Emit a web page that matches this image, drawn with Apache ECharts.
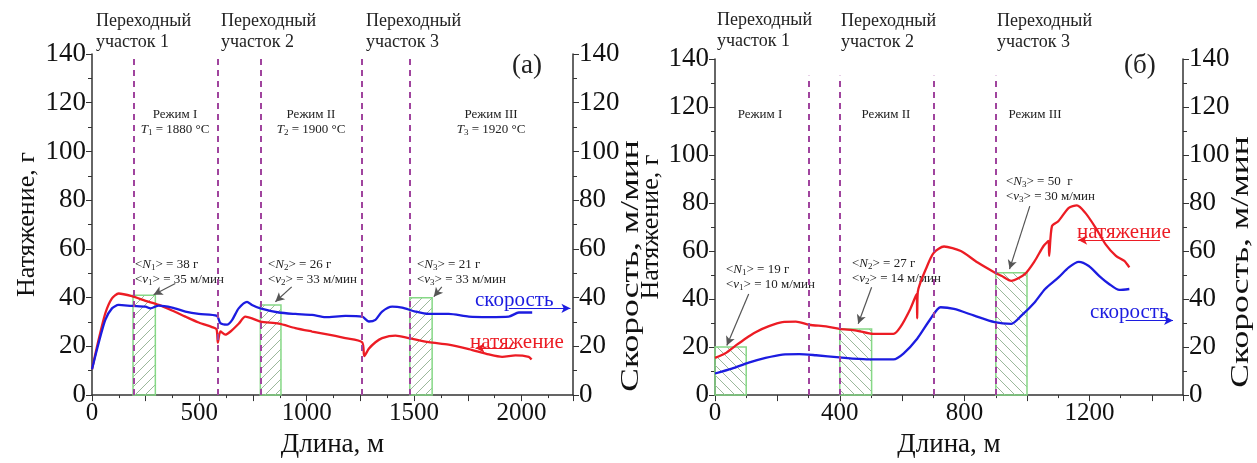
<!DOCTYPE html>
<html>
<head>
<meta charset="utf-8">
<script src="https://cdn.jsdelivr.net/npm/echarts@6/dist/echarts.min.js"></script>
<style>
  html, body { margin: 0; padding: 0; background: #fff; }
  #main { width: 1257px; height: 463px; }
</style>
</head>
<body>
<div id="main"></div>
<script>
// (а) — length [m] vs tension [g] and speed [m/min]
var lenA_N = [0, 31, 62, 93, 124, 186, 249, 311, 373, 435, 497, 559, 580, 586, 598, 621, 645, 683, 714, 745, 784, 870, 947, 1025, 1102, 1180, 1258, 1268, 1289, 1320, 1351, 1413, 1475, 1568, 1661, 1755, 1848, 1910, 1972, 2034, 2047]
var tensionA = [10.6, 22.8, 33.6, 39.7, 41.7, 40.6, 38.7, 37, 34.7, 32.2, 29.8, 27.9, 27, 21.5, 26.1, 24.8, 26.1, 29.3, 32.2, 31.5, 30.2, 29.3, 27.5, 26.1, 24.8, 23.4, 21.7, 16, 19, 21.7, 23.4, 24.4, 23.4, 21.7, 20.7, 18.9, 16.7, 15.7, 16.3, 15.7, 14.6]
var lenA_v = [0, 31, 62, 93, 124, 186, 249, 272, 311, 373, 435, 497, 582, 598, 629, 653, 683, 722, 745, 784, 870, 947, 1025, 1087, 1180, 1258, 1289, 1320, 1351, 1398, 1444, 1506, 1568, 1661, 1755, 1848, 1941, 1988, 2050]
var speedA = [10.6, 21.4, 30.9, 35.6, 37, 36.6, 36.3, 35.6, 36.7, 35.9, 34.3, 33.3, 32.5, 29.5, 28.9, 30.9, 35.6, 38.3, 37, 35.6, 33.9, 33.3, 32.9, 32, 32.5, 32.2, 30.2, 30.9, 34.3, 36.3, 35.9, 34.3, 33.3, 33.3, 32.2, 32, 32.2, 33.9, 33.9]
var boxesA = [[191, 295, 41], [784, 880, 37], [1480, 1584, 40]]   // [from, to, height]
var dividersA = [194, 586, 784, 1258, 1480]

// (б)
var lenB_N = [0, 32, 65, 97, 130, 173, 216, 259, 302, 356, 399, 453, 507, 572, 594, 626, 646, 648, 650, 680, 702, 734, 788, 842, 896, 918, 950, 993, 1025, 1053, 1069, 1071, 1080, 1101, 1134, 1160, 1187, 1220, 1252, 1285, 1312, 1328]
var tensionB = [15.5, 17.3, 20.5, 23.5, 26.2, 28.7, 30.4, 30.6, 29.3, 28.6, 27.6, 26.9, 25.5, 25.5, 28.3, 35.9, 42, 32, 43, 53.8, 59.4, 61.9, 60, 55.2, 51.1, 49.7, 47.6, 50.4, 55.9, 62.1, 64.2, 58, 70.4, 72.5, 78, 79, 75.9, 69.7, 62.8, 58, 55.9, 53.2]
var lenB_v = [0, 54, 108, 162, 216, 270, 324, 399, 486, 572, 604, 648, 691, 723, 766, 831, 896, 950, 982, 1025, 1058, 1101, 1134, 1166, 1198, 1231, 1263, 1296, 1328]
var speedB = [9, 11, 13.5, 15.5, 16.9, 17.1, 16.6, 15.7, 14.9, 14.9, 17.3, 23.5, 31.8, 36.6, 35.9, 33.1, 30.4, 29.7, 33.1, 38.7, 44.2, 49, 53.2, 55.5, 53.8, 49.7, 46.3, 43.8, 44.2]
var boxesB = [[0, 100, 20], [400, 502, 27.5], [900, 1000, 51]]
var dividersB = [300, 400, 700, 900]

var yTicks = [0, 140, 20]   // min, max, step for all four y axes

var RED = '#ec1c24'
var BLUE = '#1c1ce0'
var SERIF = '"Liberation Serif", "Times New Roman", serif'

function zip (xs, ys) {
  return xs.map(function (x, i) { return [x, ys[i]] })
}

// hatch pattern for the averaging windows
function hatch (dir) {
  var n = 10
  var c = document.createElement('canvas')
  c.width = n; c.height = n
  var g = c.getContext('2d')
  g.strokeStyle = '#9bb89b'
  g.lineWidth = 1
  g.beginPath()
  if (dir > 0) {
    g.moveTo(0, n); g.lineTo(n, 0)
    g.moveTo(-1, 1); g.lineTo(1, -1)
    g.moveTo(n - 1, n + 1); g.lineTo(n + 1, n - 1)
  } else {
    g.moveTo(0, 0); g.lineTo(n, n)
    g.moveTo(-1, n - 1); g.lineTo(1, n + 1)
    g.moveTo(n - 1, -1); g.lineTo(n + 1, 1)
  }
  g.stroke()
  return { image: c, repeat: 'repeat' }
}

function boxSeries (data, xi, yi, pattern) {
  return {
    type: 'custom',
    xAxisIndex: xi,
    yAxisIndex: yi,
    silent: true,
    z: 1,
    data: data,
    renderItem: function (params, api) {
      var p0 = api.coord([api.value(0), api.value(2)])
      var p1 = api.coord([api.value(1), 0])
      return {
        type: 'rect',
        shape: { x: p0[0], y: p0[1], width: p1[0] - p0[0], height: p1[1] - p0[1] },
        style: { fill: pattern, stroke: '#86d886', lineWidth: 1.5 }
      }
    }
  }
}

function dividerSeries (xs, xi, yi, top) {
  return {
    type: 'line',
    xAxisIndex: xi,
    yAxisIndex: yi,
    data: [],
    silent: true,
    markLine: {
      silent: true,
      symbol: ['none', 'none'],
      label: { show: false },
      lineStyle: { color: '#a0449e', type: [6, 5], width: 2 },
      data: xs.map(function (x) { return [{ coord: [x, 0] }, { coord: [x, top] }] })
    },
    z: 3
  }
}

function arrowSeries (pairs, xi, yi, color) {
  return {
    type: 'line',
    xAxisIndex: xi,
    yAxisIndex: yi,
    data: [],
    silent: true,
    markLine: {
      silent: true,
      symbol: ['none', 'arrow'],
      symbolSize: [7, 9],
      label: { show: false },
      lineStyle: { color: color, type: 'solid', width: 1.2 },
      data: pairs.map(function (p) { return [{ coord: p[0] }, { coord: p[1] }] })
    },
    z: 4
  }
}

function lineSeries (data, xi, yi, color) {
  return {
    type: 'line',
    xAxisIndex: xi,
    yAxisIndex: yi,
    data: data,
    showSymbol: false,
    smooth: 0.25,
    lineStyle: { color: color, width: 2.3 },
    z: 2
  }
}

function xAxis (gi, max, step, labelStep) {
  return {
    type: 'value',
    gridIndex: gi,
    min: 0,
    max: max,
    interval: step,
    name: 'Длина, м',
    nameLocation: 'middle',
    nameGap: 30,
    nameTextStyle: { fontFamily: SERIF, fontSize: 27, color: '#111' },
    axisLine: { onZero: false, lineStyle: { color: '#333', width: 1.5 } },
    axisTick: { inside: false, length: 6, lineStyle: { color: '#333' } },
    minorTick: { show: true, splitNumber: 2, length: 3, lineStyle: { color: '#333' } },
    axisLabel: {
      fontFamily: SERIF, fontSize: 25, color: '#111', margin: 6,
      formatter: function (v) { return v % labelStep === 0 ? v : '' }
    },
    splitLine: { show: false }
  }
}

function yAxis (gi, pos, name, gap) {
  return {
    type: 'value',
    gridIndex: gi,
    position: pos,
    min: yTicks[0],
    max: yTicks[1],
    interval: yTicks[2],
    name: name,
    nameLocation: 'middle',
    nameRotate: 90,
    nameGap: gap,
    nameTextStyle: { fontFamily: SERIF, fontSize: 26, color: '#111' },
    axisLine: { show: true, lineStyle: { color: '#333', width: 1.5 } },
    axisTick: { show: true, inside: false, length: 6, lineStyle: { color: '#333' } },
    minorTick: { show: true, splitNumber: 2, length: 4, lineStyle: { color: '#333' } },
    axisLabel: { fontFamily: SERIF, fontSize: 27, color: '#111', margin: 6 },
    splitLine: { show: false }
  }
}

var rich = {
  i: { fontFamily: SERIF, fontStyle: 'italic', fontSize: 13, lineHeight: 15 },
  s: { fontFamily: SERIF, fontSize: 9, verticalAlign: 'bottom', lineHeight: 9 }
}

function txt (x, y, text, size, color, align) {
  return {
    type: 'text',
    x: x,
    y: y,
    silent: true,
    style: {
      text: text,
      fill: color || '#222',
      font: size + 'px ' + SERIF,
      align: align || 'left',
      verticalAlign: 'top',
      lineHeight: Math.round(size * 1.18),
      rich: rich
    }
  }
}

// speed-axis titles: drawn stretched along the axis, as in the source figure
function speedTitle (x, y) {
  return {
    type: 'text',
    x: x,
    y: y,
    rotation: Math.PI / 2,
    scaleX: 1.42,
    silent: true,
    style: {
      text: 'Скорость, м/мин',
      fill: '#111',
      font: '25px ' + SERIF,
      align: 'center',
      verticalAlign: 'middle'
    }
  }
}

var myChart = echarts.init(document.getElementById('main'))

myChart.setOption({
  animation: false,
  grid: [
    { left: 92, top: 54, width: 481, height: 345 },
    { left: 715, top: 59, width: 468, height: 338 }
  ],
  xAxis: [xAxis(0, 2240, 250, 500), xAxis(1, 1500, 200, 400)],
  yAxis: [
    yAxis(0, 'left', 'Натяжение, г', 52),
    yAxis(0, 'right', '', 48),
    yAxis(1, 'left', 'Натяжение, г', 44),
    yAxis(1, 'right', '', 48)
  ],
  series: [
    boxSeries(boxesA, 0, 0, hatch(1)),
    boxSeries(boxesB, 1, 2, hatch(-1)),
    dividerSeries(dividersA, 0, 0, 140),
    dividerSeries(dividersB, 1, 2, 133),
    lineSeries(zip(lenA_N, tensionA), 0, 0, RED),
    lineSeries(zip(lenA_v, speedA), 0, 1, BLUE),
    lineSeries(zip(lenB_N, tensionB), 1, 2, RED),
    lineSeries(zip(lenB_v, speedB), 1, 3, BLUE),
    arrowSeries([[[388, 45.8], [287, 41.2]], [[930, 44.4], [854, 38.3]], [[1629, 44.4], [1592, 40.4]]], 0, 0, '#555'),
    arrowSeries([[[1941, 35.6], [2228, 35.6]]], 0, 0, BLUE),
    arrowSeries([[[1972, 19.3], [1786, 19.3]]], 0, 0, RED),
    arrowSeries([[[108, 42.1], [38, 20.7]], [[502, 44.9], [459, 29.7]], [[1009, 78.7], [944, 52.5]]], 1, 2, '#555'),
    arrowSeries([[[1426, 64.6], [1164, 64.6]]], 1, 2, RED),
    arrowSeries([[[1316, 31.1], [1468, 31.1]]], 1, 2, BLUE)
  ],
  graphic: [
    speedTitle(631, 266),
    speedTitle(1241, 262),

    txt(96, 11, 'Переходный\nучасток 1', 18),
    txt(221, 11, 'Переходный\nучасток 2', 18),
    txt(366, 11, 'Переходный\nучасток 3', 18),
    txt(512, 50, '(а)', 27),
    txt(175, 107, 'Режим I\n{i|T}{s|1} = 1880 °C', 13, '#222', 'center'),
    txt(311, 107, 'Режим II\n{i|T}{s|2} = 1900 °C', 13, '#222', 'center'),
    txt(491, 107, 'Режим III\n{i|T}{s|3} = 1920 °C', 13, '#222', 'center'),
    txt(135, 257, '<{i|N}{s|1}> = 38 г\n<{i|v}{s|1}> = 35 м/мин', 13),
    txt(268, 257, '<{i|N}{s|2}> = 26 г\n<{i|v}{s|2}> = 33 м/мин', 13),
    txt(417, 257, '<{i|N}{s|3}> = 21 г\n<{i|v}{s|3}> = 33 м/мин', 13),
    txt(475, 288, 'скорость', 21, BLUE),
    txt(470, 330, 'натяжение', 21, RED),

    txt(717, 10, 'Переходный\nучасток 1', 18),
    txt(841, 11, 'Переходный\nучасток 2', 18),
    txt(997, 11, 'Переходный\nучасток 3', 18),
    txt(1124, 50, '(б)', 27),
    txt(760, 107, 'Режим I', 13, '#222', 'center'),
    txt(886, 107, 'Режим II', 13, '#222', 'center'),
    txt(1035, 107, 'Режим III', 13, '#222', 'center'),
    txt(726, 262, '<{i|N}{s|1}> = 19 г\n<{i|v}{s|1}> = 10 м/мин', 13),
    txt(852, 256, '<{i|N}{s|2}> = 27 г\n<{i|v}{s|2}> = 14 м/мин', 13),
    txt(1006, 174, '<{i|N}{s|3}> = 50  г\n<{i|v}{s|3}> = 30 м/мин', 13),
    txt(1077, 220, 'натяжение', 21, RED),
    txt(1090, 300, 'скорость', 21, BLUE)
  ]
})
</script>
</body>
</html>
